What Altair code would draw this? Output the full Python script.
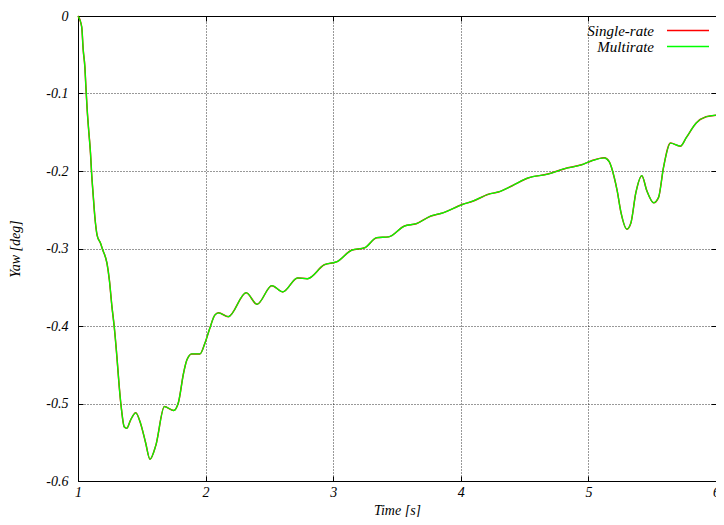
import altair as alt
import pandas as pd

time_s = [1.000, 1.029, 1.041, 1.054, 1.062, 1.072, 1.085, 1.098, 1.106, 1.119,
          1.132, 1.150, 1.176, 1.194, 1.227, 1.246, 1.266, 1.284, 1.305, 1.323,
          1.341, 1.362, 1.382, 1.413, 1.452, 1.491, 1.529, 1.564, 1.610, 1.677,
          1.750, 1.788, 1.827, 1.853, 1.891, 1.956, 1.995, 2.033, 2.072, 2.101,
          2.178, 2.318, 2.403, 2.519, 2.605, 2.721, 2.798, 2.930, 3.031, 3.147,
          3.248, 3.341, 3.434, 3.558, 3.651, 3.767, 3.860, 4.016, 4.093, 4.217,
          4.295, 4.403, 4.527, 4.682, 4.814, 4.946, 5.023, 5.124, 5.163, 5.202,
          5.225, 5.256, 5.302, 5.333, 5.372, 5.419, 5.457, 5.512, 5.550, 5.589,
          5.643, 5.721, 5.767, 5.845, 5.922, 6.000]
yaw_deg = [0.000, -0.014, -0.044, -0.066, -0.092, -0.121, -0.150, -0.177, -0.201, -0.231,
           -0.259, -0.283, -0.293, -0.302, -0.319, -0.341, -0.375, -0.401, -0.440, -0.478,
           -0.508, -0.530, -0.532, -0.521, -0.512, -0.526, -0.550, -0.572, -0.554, -0.504,
           -0.509, -0.498, -0.461, -0.444, -0.436, -0.436, -0.422, -0.403, -0.386, -0.383,
           -0.388, -0.357, -0.372, -0.348, -0.356, -0.338, -0.339, -0.321, -0.317, -0.302,
           -0.299, -0.286, -0.285, -0.271, -0.268, -0.258, -0.254, -0.243, -0.239, -0.230,
           -0.227, -0.219, -0.209, -0.204, -0.197, -0.192, -0.187, -0.183, -0.188, -0.208,
           -0.225, -0.254, -0.275, -0.267, -0.228, -0.206, -0.225, -0.241, -0.234, -0.195,
           -0.164, -0.168, -0.157, -0.138, -0.130, -0.128]

series_names = ["Single-rate", "Multirate"]
series_colors = ["#ff0000", "#00ff00"]
x_ticks = [1, 2, 3, 4, 5, 6]
y_ticks = [0, -0.1, -0.2, -0.3, -0.4, -0.5, -0.6]

rows = []
for name in series_names:
    for t, y in zip(time_s, yaw_deg):
        rows.append({"series": name, "t": t, "yaw": y})
df = pd.DataFrame(rows)

FONT = "Liberation Serif"
FS = 14

x_scale = alt.Scale(domain=[1, 6], nice=False, zero=False)
y_scale = alt.Scale(domain=[-0.6, 0], nice=False, zero=False)

color = alt.Color(
    "series:N",
    scale=alt.Scale(domain=series_names, range=series_colors),
    legend=alt.Legend(
        title=None, orient="none", legendX=602.5, legendY=7, direction="vertical",
        symbolType="M-6,0H6", symbolSize=49, symbolStrokeWidth=1.5,
        labelAlign="right", labelOffset={"expr": "-41.5"}, labelFont=FONT, labelFontStyle="italic",
        labelFontSize=15, labelColor="black", rowPadding=0, padding=0,
    ),
)

common_axis = dict(domain=False, tickSize=5, tickColor="black", tickWidth=1, offset={"expr": "-5"},
                   labelFont=FONT, labelFontStyle="italic", labelFontSize=FS, labelColor="black",
                   titleFont=FONT, titleFontStyle="italic", titleFontSize=FS, titleFontWeight="normal",
                   titleColor="black", labelFlush=False, labelOverlap=False,
                   gridColor="#000000", gridOpacity=0.8, gridDash=[1, 2], gridWidth=1)

x_bottom = alt.X("t:Q", scale=x_scale, axis=alt.Axis(
    orient="bottom", values=x_ticks, title="Time [s]", grid=True, labelPadding=15,
    labelBaseline="alphabetic", titleBaseline="alphabetic", titleY=38,
    labelExpr="'' + datum.value", **common_axis))
y_left = alt.Y("yaw:Q", scale=y_scale, axis=alt.Axis(
    orient="left", values=y_ticks, title="Yaw [deg]", grid=True, labelPadding=10,
    titleAngle=270, titleBaseline="bottom", titleX=-61,
    labelExpr="'' + datum.value", **common_axis))

x_top = alt.X("t:Q", scale=x_scale, axis=alt.Axis(
    orient="top", values=x_ticks, title=None, grid=False, labels=False, **common_axis))
y_right = alt.Y("yaw:Q", scale=y_scale, axis=alt.Axis(
    orient="right", values=y_ticks, title=None, grid=False, labels=False, **common_axis))

base = alt.Chart(df)
red = base.transform_filter(alt.datum.series == series_names[0]).mark_line(
    strokeWidth=1.5, interpolate="monotone").encode(x=x_bottom, y=y_left, color=color)
green = base.transform_filter(alt.datum.series == series_names[1]).mark_line(
    strokeWidth=1.3, interpolate="monotone").encode(x=x_top, y=y_right, color=color)

chart = alt.layer(red, green).resolve_axis(x="independent", y="independent").properties(
    width=638, height=465,
    autosize=alt.AutoSizeParams(type="none"),
    padding={"left": 70, "top": 8, "right": 0, "bottom": 36},
).configure_view(stroke="black", strokeWidth=1)

chart.save("out.html", embed_options={"renderer": "svg", "actions": False})
